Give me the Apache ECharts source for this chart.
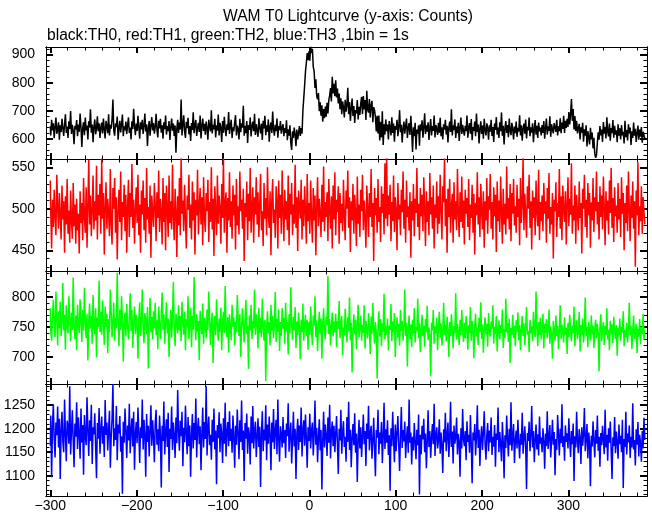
<!DOCTYPE html>
<html><head><meta charset="utf-8">
<script src="https://cdn.jsdelivr.net/npm/echarts@6/dist/echarts.min.js"></script>
<style>html,body{margin:0;padding:0;background:#fff}#c{width:652px;height:515px}</style>
</head><body><div id="c"></div>
<script>
// time of first bin (s relative to T0), 1 bin = 1 s
const xStart = -300;

// TH0 (black) counts per 1-s bin, x = -300 .. 389
const th0 = [
645,612,668,630,655,602,641,676,618,633,659,597,648,624,671,639,610,652,687,621,644,603,662,635,699,617,650,628,581,646,
634,667,609,651,625,690,642,571,638,659,613,676,630,647,598,662,640,705,622,651,588,643,669,616,637,680,627,655,603,641,
658,619,672,633,601,664,645,620,687,612,650,636,669,740,628,611,655,642,679,597,638,664,623,651,686,609,644,630,661,617,
649,676,621,640,598,662,635,707,646,613,654,628,682,641,600,659,633,668,617,645,690,626,652,574,639,663,611,648,677,630,
656,618,642,689,631,605,664,637,671,622,648,600,659,634,683,615,645,627,663,596,640,672,629,654,610,647,550,635,668,621,
658,633,740,612,649,684,627,603,661,638,675,616,645,592,656,631,694,620,649,667,610,638,657,624,683,601,646,672,628,653,
615,661,637,597,668,643,626,702,619,650,634,671,605,648,629,686,612,657,640,589,663,622,678,636,609,652,631,695,617,645,
668,603,641,627,659,684,612,647,633,598,671,624,655,640,718,611,646,620,663,585,649,632,676,608,644,661,627,689,614,652,
630,607,673,641,619,654,596,664,637,682,613,648,625,669,590,643,658,621,697,634,611,650,627,672,604,645,631,663,618,640,
652,609,638,621,666,595,634,611,648,585,560,627,603,640,615,574,633,598,621,645,610,638,618,700,745,790,840,870,905,880,
912,878,928,905,921,856,842,781,812,752,741,763,698,730,682,719,661,706,673,715,679,728,690,737,754,781,733,821,762,796,
752,808,747,779,726,761,705,744,688,733,712,676,739,697,720,782,688,731,664,709,743,681,717,656,702,691,738,669,714,685,
726,749,688,752,705,738,667,771,703,694,742,676,720,735,659,713,701,678,626,682,619,683,594,661,605,698,578,652,615,669,
627,651,598,663,640,612,677,621,654,590,645,632,668,609,641,702,623,650,587,636,661,618,645,672,603,639,656,614,682,628,
553,641,609,657,562,633,618,648,575,652,629,666,604,640,691,617,648,625,659,596,637,670,612,645,628,683,605,649,636,614,
657,622,675,609,641,598,652,633,668,615,646,587,639,661,624,705,612,648,631,669,603,644,620,657,592,638,676,617,650,629,
611,646,627,683,604,639,656,618,670,595,642,628,661,609,690,624,651,583,635,662,617,647,600,671,630,612,655,639,597,648,
625,668,610,642,589,654,632,677,615,640,603,659,627,694,611,646,580,638,663,621,649,606,672,629,613,657,635,598,644,620,
661,607,639,626,684,612,648,593,637,654,618,669,601,643,630,676,609,641,622,655,588,634,667,615,646,603,658,627,640,612,
649,621,663,600,638,672,615,644,628,680,607,652,634,619,656,641,625,668,612,645,627,673,620,658,635,682,621,664,639,671,
642,695,651,688,742,664,706,633,681,628,664,619,615,653,598,641,622,657,590,634,611,648,573,627,605,580,639,598,622,566,
604,548,532,541,586,623,597,645,612,633,589,660,618,642,601,677,625,609,654,593,638,620,667,604,646,615,630,588,652,611,
637,598,649,612,625,583,664,606,631,594,652,619,640,578,627,603,658,611,636,589,620,647,597,633,608,642,586,625,613,601
];

// TH1 (red)
const th1 = [
534,497,452,511,478,523,489,468,541,502,476,519,493,463,528,487,509,447,515,481,536,470,498,459,522,486,464,531,479,505,
458,512,474,494,446,521,483,507,462,537,490,471,526,453,502,559,481,516,467,498,540,475,509,486,552,463,517,492,530,470,
561,488,519,445,503,532,476,512,494,467,548,482,457,525,500,537,471,514,439,496,523,484,545,462,508,490,529,473,517,447,
502,535,466,519,490,554,477,511,458,499,526,483,541,468,505,447,522,493,534,474,513,459,549,487,502,470,528,441,516,495,
478,531,503,461,520,489,546,472,512,496,457,537,484,519,450,528,501,466,540,483,509,475,553,490,462,524,498,442,515,480,
537,468,561,494,510,473,529,488,452,516,499,541,477,505,463,533,486,520,445,511,492,547,469,502,525,481,514,456,538,490,
472,519,497,535,460,508,484,550,475,512,443,527,495,468,540,482,516,501,458,530,489,562,471,506,520,447,513,486,544,478,
509,464,528,492,517,451,536,480,503,469,545,497,511,476,524,437,507,490,533,462,518,485,549,471,500,526,459,514,493,538,
481,520,466,505,542,474,497,455,531,488,513,468,550,492,477,521,444,509,536,483,499,465,527,510,452,534,489,517,470,546,
496,461,523,487,509,474,540,456,518,493,531,468,505,482,553,477,514,449,522,501,488,535,463,511,479,527,497,458,542,485,
507,470,534,491,459,525,486,516,444,503,538,479,512,495,466,529,484,551,473,508,490,520,461,536,499,476,515,452,528,487,
544,468,511,496,527,458,519,483,506,473,535,491,462,522,500,546,477,514,448,509,486,530,470,517,494,455,539,482,505,466,
523,497,541,474,510,487,453,528,501,466,519,490,548,478,507,437,525,492,513,471,536,484,502,460,527,495,518,469,555,488,
562,479,516,493,529,461,508,485,540,472,514,498,450,531,487,505,468,523,496,545,476,511,459,534,490,503,474,520,441,509,
486,530,467,512,495,549,478,506,462,525,491,517,473,538,500,455,521,484,509,468,543,493,514,476,528,452,505,489,533,470,
515,482,541,496,463,527,508,561,479,512,447,524,490,536,471,503,518,459,532,487,509,474,548,495,466,520,484,539,477,510,
457,523,494,513,478,536,462,505,489,529,471,518,445,507,492,544,481,514,466,530,497,475,521,453,509,486,537,470,515,499,
542,476,508,463,526,491,517,448,533,485,510,472,539,496,458,524,481,506,469,551,488,513,475,530,461,519,494,536,480,503,
471,529,490,512,456,537,483,505,562,474,518,493,465,527,500,541,477,509,451,522,489,514,468,534,496,479,547,462,508,485,
516,473,531,494,509,459,525,488,543,470,502,481,519,440,511,497,532,466,507,490,548,476,515,462,528,499,484,521,457,506,
538,479,512,493,555,470,504,486,528,458,517,495,474,533,489,507,446,524,500,541,478,511,465,531,492,519,453,508,486,537,
472,514,497,545,481,508,463,527,490,516,475,539,502,456,521,486,510,469,534,495,549,477,513,460,526,491,504,471,531,487,
512,466,538,494,519,450,507,483,528,473,545,499,461,516,489,533,476,509,430,522,492,556,468,503,485,527,470,514,496,481
];

// TH2 (green)
const th2 = [
781,742,727,768,795,751,733,809,764,719,776,748,792,735,758,823,744,770,712,786,753,739,801,760,726,774,745,832,757,730,
769,711,787,752,740,796,763,725,778,744,815,758,731,772,694,760,789,747,768,722,803,755,738,781,699,766,749,827,741,775,
737,794,758,720,784,750,772,706,763,741,812,776,733,758,790,727,765,748,840,754,718,779,745,801,763,692,756,774,734,788,
751,729,766,806,743,778,715,759,784,738,770,752,697,764,791,735,757,812,746,723,773,760,738,783,681,752,798,741,767,729,
776,748,790,736,761,713,784,755,730,769,807,745,771,722,758,791,739,764,700,753,778,732,765,825,749,718,772,757,739,786,
744,768,726,792,759,737,775,711,763,749,801,730,757,782,716,768,745,833,756,728,771,742,760,695,777,751,738,789,722,765,
753,731,779,745,809,762,720,757,774,690,748,768,736,796,755,727,764,742,782,711,759,775,740,818,749,733,766,707,771,752,
728,787,750,766,719,759,741,803,764,735,772,700,747,781,756,724,763,795,738,752,680,769,744,787,730,760,748,812,737,771,
756,714,782,740,765,733,797,751,727,762,660,748,776,739,758,719,787,744,769,731,753,808,725,764,742,779,710,758,735,781,
747,765,722,790,743,758,704,771,739,816,752,728,767,744,783,715,759,736,774,750,696,762,741,789,727,755,770,735,761,712,
758,737,784,746,720,769,752,801,733,761,710,748,775,739,764,697,756,781,742,729,767,753,835,738,763,719,750,774,734,759,
741,772,716,760,747,793,731,755,768,703,749,736,780,752,724,766,743,799,728,757,674,745,771,738,762,713,754,787,733,748,
769,727,753,740,786,714,760,745,731,773,752,705,767,738,790,746,722,758,741,664,750,776,734,763,718,756,742,805,729,751,
737,764,711,752,745,788,726,759,741,773,700,748,766,732,755,719,778,743,760,727,749,812,735,757,684,745,769,730,754,716,
762,739,781,724,750,743,797,731,756,708,745,770,735,752,717,763,741,785,728,749,736,668,757,744,778,722,751,739,765,711,
748,775,733,756,719,742,790,737,753,726,767,744,700,758,735,771,747,714,752,739,806,729,755,741,720,762,736,778,745,725,
757,731,768,744,712,753,739,783,727,760,746,698,751,772,734,748,720,765,742,791,730,754,707,745,766,738,755,717,773,743,
734,759,747,786,722,750,738,768,709,744,761,729,753,740,779,715,747,732,797,741,756,725,764,690,748,737,770,731,752,718,
761,742,774,728,753,711,745,768,735,756,720,749,783,737,744,708,762,739,751,726,775,743,733,809,747,718,758,736,765,729,
748,772,714,755,740,763,731,746,779,722,751,738,697,760,744,727,769,735,752,713,745,786,730,754,741,724,766,737,748,705,
757,733,770,744,726,752,739,784,718,748,761,730,742,775,709,753,737,764,724,746,799,735,750,716,758,741,727,769,738,752,
715,746,762,731,755,740,676,749,771,726,744,758,720,752,737,781,729,745,711,760,738,754,723,767,742,730,753,702,748,736,
764,727,750,741,776,718,745,733,757,724,748,790,736,752,713,744,769,730,741,755,706,747,734,763,721,750,738,772,729,745
];

// TH3 (blue)
const th3 = [
1164,1228,1097,1205,1252,1178,1139,1213,1186,1247,1160,1221,1093,1198,1236,1172,1150,1262,1189,1131,1217,1204,1168,1290,1145,1193,1239,1176,1118,1211,
1183,1256,1157,1224,1190,1136,1243,1171,1208,1102,1229,1184,1165,1267,1196,1142,1218,1174,1251,1125,1203,1188,1233,1159,1095,1212,1179,1244,1147,1198,
1226,1168,1205,1140,1261,1187,1213,1154,1199,1238,1117,1182,1221,1295,1163,1201,1176,1248,1133,1209,1190,1227,1151,1184,1062,1215,1170,1243,1195,1138,
1207,1175,1253,1148,1196,1222,1162,1236,1113,1188,1214,1169,1245,1192,1127,1203,1180,1262,1156,1219,1185,1098,1231,1172,1206,1141,1197,1250,1164,1218,
1182,1129,1213,1240,1166,1199,1152,1228,1187,1075,1206,1174,1258,1145,1191,1220,1161,1234,1108,1200,1178,1247,1155,1213,1186,1138,1224,1169,1282,1194,
1153,1217,1184,1236,1120,1202,1171,1249,1190,1146,1225,1163,1207,1098,1185,1231,1158,1212,1176,1264,1139,1198,1223,1167,1205,1112,1189,1245,1160,1214,
1178,1290,1143,1201,1226,1165,1187,1134,1219,1172,1243,1156,1196,1082,1208,1180,1235,1150,1211,1189,1127,1222,1168,1255,1141,1193,1214,1163,1237,1174,
1200,1149,1228,1183,1117,1206,1166,1241,1190,1135,1218,1172,1260,1155,1196,1089,1212,1179,1232,1147,1203,1187,1124,1226,1169,1248,1158,1194,1215,1140,
1183,1222,1161,1204,1076,1190,1237,1152,1198,1175,1250,1133,1209,1168,1226,1186,1112,1213,1171,1242,1157,1195,1219,1146,1262,1179,1130,1205,1188,1160,
1225,1169,1197,1138,1211,1184,1254,1151,1190,1213,1126,1177,1236,1162,1200,1093,1188,1221,1155,1207,1172,1245,1141,1196,1218,1164,1230,1180,1117,1203,
1174,1232,1158,1195,1213,1143,1187,1260,1166,1202,1129,1181,1220,1154,1197,1071,1175,1236,1160,1209,1185,1142,1224,1170,1251,1137,1193,1215,1163,1206,
1150,1189,1227,1168,1104,1200,1175,1240,1147,1192,1216,1161,1183,1130,1225,1172,1257,1155,1198,1118,1180,1210,1165,1233,1149,1190,1087,1176,1219,1158,
1203,1140,1185,1230,1167,1195,1121,1211,1178,1249,1154,1188,1206,1136,1172,1223,1160,1099,1197,1181,1240,1146,1192,1168,1214,1127,1183,1255,1157,1199,
1170,1218,1144,1186,1068,1201,1163,1236,1178,1129,1209,1152,1191,1227,1166,1110,1184,1246,1159,1197,1173,1215,1138,1180,1205,1149,1262,1170,1192,1124,
1183,1154,1212,1172,1135,1198,1165,1230,1060,1187,1146,1206,1177,1221,1150,1190,1116,1174,1239,1161,1195,1138,1181,1210,1167,1253,1142,1186,1203,1158,
1176,1220,1147,1192,1165,1106,1199,1171,1234,1152,1185,1213,1140,1179,1257,1161,1194,1126,1207,1168,1182,1224,1145,1189,1173,1098,1201,1158,1242,1177,
1163,1195,1133,1216,1172,1187,1149,1229,1166,1084,1192,1175,1210,1143,1183,1250,1159,1198,1121,1180,1205,1155,1191,1237,1168,1134,1186,1212,1152,1196,
1171,1224,1144,1183,1162,1208,1119,1190,1176,1245,1150,1193,1167,1131,1214,1172,1095,1186,1159,1228,1179,1141,1200,1165,1256,1153,1184,1210,1127,1175,
1196,1158,1219,1170,1137,1189,1166,1234,1147,1180,1205,1163,1072,1191,1174,1215,1152,1186,1248,1160,1195,1129,1177,1209,1156,1188,1143,1226,1168,1181,
1150,1201,1174,1115,1190,1163,1237,1157,1182,1208,1139,1175,1219,1166,1193,1101,1178,1155,1229,1186,1143,1200,1169,1252,1161,1184,1132,1207,1172,1190,
1158,1222,1176,1140,1195,1167,1211,1089,1184,1160,1236,1173,1148,1199,1181,1125,1203,1164,1188,1244,1152,1179,1210,1137,1192,1170,1078,1185,1162,1216,
1174,1139,1197,1168,1228,1153,1183,1119,1191,1165,1206,1176,1146,1240,1160,1187,1132,1201,1170,1215,1155,1093,1182,1163,1225,1148,1194,1172,1136,1209,
1167,1185,1150,1219,1074,1178,1161,1236,1145,1190,1171,1207,1138,1183,1160,1254,1156,1176,1122,1199,1166,1214,1141,1187,1170,1130,1195,1158,1223,1176
];

// tick values
const xMajorTicks = [-300,-200,-100,0,100,200,300];
const xMinorTicks = [-280,-260,-240,-220,-180,-160,-140,-120,-80,-60,-40,-20,20,40,60,80,120,140,160,180,220,240,260,280,320,340,360,380];
const y0Major = [600,700,800,900];
const y0Minor = [540,560,580,620,640,660,680,720,740,760,780,820,840,860,880,920];
const y1Major = [450,500,550];
const y1Minor = [430,440,460,470,480,490,510,520,530,540];
const y2Major = [700,750,800];
const y2Minor = [660,670,680,690,710,720,730,740,760,770,780,790,810,820,830,840];
const y3Major = [1100,1150,1200,1250];
const y3Minor = [1060,1070,1080,1090,1110,1120,1130,1140,1160,1170,1180,1190,1210,1220,1230,1240,1260,1270,1280,1290];

const titleText = 'WAM T0 Lightcurve (y-axis: Counts)';
const subtitleText = 'black:TH0, red:TH1, green:TH2, blue:TH3 ,1bin = 1s';

const FONT = '"Liberation Sans", Arial, Helvetica, sans-serif';
const panels = [
  {data: th0, color: '#000000', min: 528, max: 927, major: y0Major, minor: y0Minor},
  {data: th1, color: '#ff0000', min: 425, max: 560, major: y1Major, minor: y1Minor},
  {data: th2, color: '#00ff00', min: 655, max: 843, major: y2Major, minor: y2Minor},
  {data: th3, color: '#0000ff', min: 1057, max: 1295, major: y3Major, minor: y3Minor}
];
const gridTops = [47, 159, 271, 384];
const gridHeights = [112, 112, 113, 112];

const grid = [], xAxis = [], yAxis = [], series = [];
const fmtX = v => v < 0 ? '\u2212' + (-v) : String(v);
const fmtY = v => String(v);
const axisLine = {show: true, onZero: false, lineStyle: {color: '#000', width: 1}};

panels.forEach((p, i) => {
  grid.push({left: 46, width: 601, top: gridTops[i], height: gridHeights[i]});
  const xb = {type: 'value', gridIndex: i, min: -305, max: 391, splitLine: {show: false}, axisLine: axisLine};
  xAxis.push(Object.assign({}, xb, {position: 'bottom',
    axisTick: {show: true, inside: true, length: 6, lineStyle: {width: 2, color: '#000'}, customValues: xMajorTicks},
    axisLabel: {show: i === 3, customValues: xMajorTicks, margin: 3, color: '#000', fontSize: 14, fontFamily: FONT, formatter: fmtX}}));
  xAxis.push(Object.assign({}, xb, {position: 'top',
    axisTick: {show: true, inside: true, length: 6, lineStyle: {width: 2, color: '#000'}, customValues: xMajorTicks},
    axisLabel: {show: false}}));
  xAxis.push(Object.assign({}, xb, {position: 'bottom',
    axisTick: {show: true, inside: true, length: 3.5, lineStyle: {width: 1, color: '#000'}, customValues: xMinorTicks},
    axisLabel: {show: false}}));
  xAxis.push(Object.assign({}, xb, {position: 'top',
    axisTick: {show: true, inside: true, length: 3.5, lineStyle: {width: 1, color: '#000'}, customValues: xMinorTicks},
    axisLabel: {show: false}}));

  const yb = {type: 'value', gridIndex: i, min: p.min, max: p.max, splitLine: {show: false}, axisLine: axisLine};
  yAxis.push(Object.assign({}, yb, {position: 'left',
    axisTick: {show: true, inside: true, length: 7, lineStyle: {width: 2, color: '#000'}, customValues: p.major},
    axisLabel: {show: true, customValues: p.major, margin: 11, color: '#000', fontSize: 14, fontFamily: FONT, formatter: fmtY}}));
  yAxis.push(Object.assign({}, yb, {position: 'right',
    axisTick: {show: true, inside: true, length: 7, lineStyle: {width: 2, color: '#000'}, customValues: p.major},
    axisLabel: {show: false}}));
  yAxis.push(Object.assign({}, yb, {position: 'left',
    axisTick: {show: true, inside: true, length: 3.5, lineStyle: {width: 1, color: '#000'}, customValues: p.minor},
    axisLabel: {show: false}}));
  yAxis.push(Object.assign({}, yb, {position: 'right',
    axisTick: {show: true, inside: true, length: 3.5, lineStyle: {width: 1, color: '#000'}, customValues: p.minor},
    axisLabel: {show: false}}));

  series.push({
    type: 'line', xAxisIndex: i * 4, yAxisIndex: i * 4,
    data: p.data.map((v, k) => [xStart + k, v]),
    step: 'middle', showSymbol: false, symbol: 'none', silent: true,
    lineStyle: {width: 1.5, color: p.color}, itemStyle: {color: p.color},
    emphasis: {disabled: true}
  });
});

const graphic = [
  {type: 'text', x: 348, y: 17, style: {text: titleText, fill: '#000', font: '15.6px ' + FONT, textAlign: 'center', textVerticalAlign: 'middle'}},
  {type: 'text', x: 47, y: 36, style: {text: subtitleText, fill: '#000', font: '15.6px ' + FONT, textAlign: 'left', textVerticalAlign: 'middle'}}
];
const lens = panels.map(p => p.data.length);
if (lens.some(l => l !== 690)) {
  graphic.push({type: 'text', x: 500, y: 10, style: {text: 'LEN ' + lens.join(','), fill: '#f0f', font: '12px sans-serif'}});
}

const chart = echarts.init(document.getElementById('c'), null, {renderer: 'canvas'});
chart.setOption({
  animation: false,
  backgroundColor: '#ffffff',
  grid, xAxis, yAxis, series, graphic
});
</script>
</body></html>
